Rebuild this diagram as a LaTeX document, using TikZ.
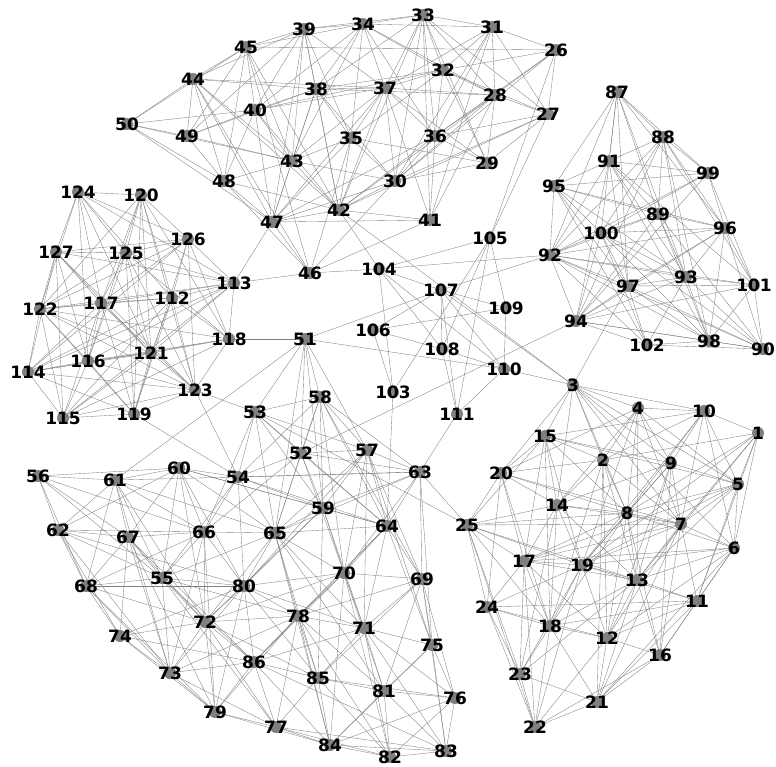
\documentclass[tikz,border=0pt]{standalone}
\usepackage{fontspec}
\setmainfont{DejaVu Sans}
\pgfdeclarelayer{background}
\pgfsetlayers{background,main}
\tikzset{
  vtx/.style={font=\bfseries\fontsize{17}{17}\selectfont, text=black, inner sep=0pt},
  edge/.style={draw=black!50, line width=0.35pt},
  dotc/.style={fill=black!50}
}
\begin{document}
\begin{tikzpicture}[x=1pt,y=-1pt]
\useasboundingbox (0,0) rectangle (776,766);
\foreach \i/\x/\y in {
1/758/433, 2/603/460, 3/573/385, 4/638/408, 5/738/484, 6/734/548, 7/681/524, 8/627/513, 9/671/463, 10/704/411,
11/697/601, 12/607/638, 13/637/580, 14/557/505, 15/545/436, 16/660/655, 17/524/561, 18/550/626, 19/582/565, 20/501/473,
21/597/702, 22/535/727, 23/520/674, 24/487/607, 25/467/525,
26/556/50, 27/548/114, 28/495/95, 29/487/163, 30/395/181, 31/492/27, 32/443/70, 33/423/15, 34/363/24, 35/351/138,
36/435/136, 37/385/88, 38/316/89, 39/304/29, 40/255/110, 41/430/220, 42/339/210, 43/292/161, 44/193/79, 45/246/47,
46/310/273, 47/272/222, 48/224/181, 49/187/136, 50/127/124,
51/305/339, 52/301/453, 53/255/412, 54/238/477, 55/162/578, 56/38/476, 57/367/450, 58/320/397, 59/323/508, 60/179/468,
61/115/480, 62/58/530, 63/420/472, 64/387/526, 65/275/533, 66/204/532, 67/128/537, 68/86/586, 69/422/579, 70/344/573,
71/364/628, 72/205/622, 73/170/673, 74/120/636, 75/432/645, 76/455/698, 77/276/727, 78/298/616, 79/215/712, 80/244/586,
81/384/691, 82/390/757, 83/446/751, 84/330/745, 85/318/678, 86/254/662,
87/617/92, 88/663/137, 89/658/214, 90/763/349, 91/609/161, 92/550/255, 93/686/277, 94/576/321, 95/554/186, 96/725/228,
97/628/286, 98/709/341, 99/708/173, 100/601/233, 101/754/285, 102/647/345,
103/393/392, 104/379/269, 105/490/238, 106/373/330, 107/441/290, 108/442/349, 109/506/308, 110/504/369, 111/457/414,
112/172/298, 113/234/283, 114/28/372, 115/63/418, 116/88/361, 117/101/303, 118/229/339, 119/134/414, 120/141/195,
121/151/353, 122/40/309, 123/195/390, 124/78/192, 125/126/253, 126/188/239, 127/56/252}
  \node[vtx] (n\i) at (\x,\y) {\i};
\begin{pgfonlayer}{background}
% top cluster
\foreach \a/\b in {50/44,50/45,50/49,50/43,50/40,50/48,50/47,49/43,
44/45,44/39,44/49,44/48,44/47,44/43,44/42,44/38,44/37,
45/39,45/34,45/26,45/40,45/43,45/49,45/42,45/48,
39/34,39/33,39/37,39/38,39/40,39/43,39/35,39/49,39/47,39/42,
34/33,34/31,34/37,34/35,34/38,34/40,34/43,34/36,34/32,34/28,
33/31,33/32,33/36,33/28,33/27,33/37,33/38,33/30,33/29,33/41,33/42,
31/26,31/28,31/27,31/36,31/30,31/41,31/32,31/37,
26/28,26/27,26/30,26/105,26/32,26/36,
28/32,28/27,28/29,28/36,28/30,28/37,28/38,28/41,28/42,
27/32,27/30,27/29,27/36,27/42,27/105,
32/37,32/36,32/29,32/38,32/40,32/35,
37/38,37/35,37/36,37/41,37/43,37/42,37/30,37/47,37/40,37/29,
38/35,38/43,38/42,38/30,38/40,38/47,38/49,
35/43,35/42,35/47,35/30,35/29,35/46,
36/30,36/41,36/42,36/29,36/47,
30/42,30/47,30/29,30/43,30/46,
41/47,41/42,41/46,42/47,42/43,42/48,42/40,43/48,43/47,43/40,
46/44,46/45,46/47,46/48,48/49,48/40,48/47,40/49,40/47}
  \draw[edge] (n\a.center) -- (n\b.center);
% middle and bridges
\foreach \a/\b in {47/113,46/113,46/104,104/92,104/105,104/103,104/108,104/110,104/107,42/104,42/3,
105/108,105/103,105/109,105/111,107/106,107/108,107/111,107/109,107/110,107/92,107/3,51/107,
106/109,106/108,106/103,109/110,108/111,108/110,111/110,111/63,118/51,51/110,110/3,94/52,3/97,
103/64,53/25,63/25,119/54,123/53,123/54,61/51,51/53,51/58,51/52,51/59,51/57,51/65,124/113,120/118}
  \draw[edge] (n\a.center) -- (n\b.center);
% left cluster
\foreach \a/\b in {124/120,124/127,124/122,124/125,124/117,124/116,124/121,124/112,124/126,
120/125,120/117,120/112,120/121,120/126,120/119,120/123,120/116,120/122,
126/127,126/125,126/112,126/113,126/118,126/123,126/117,126/119,126/122,126/114,
127/125,127/122,127/114,127/115,127/117,127/121,127/123,127/113,127/116,
125/117,125/121,125/118,125/122,125/113,125/119,125/123,125/116,
117/122,117/112,117/121,117/113,117/116,117/115,117/114,117/119,117/123,
112/113,112/122,112/121,112/118,112/114,112/115,112/119,112/123,
113/118,113/122,113/116,113/114,113/121,113/115,
122/114,122/115,122/116,122/121,122/123,122/119,122/118,
118/121,118/116,118/114,118/123,118/115,
121/116,121/114,121/119,121/115,121/123,
116/114,116/115,116/119,116/123,114/115,114/119,114/123,115/119,115/123,119/123}
  \draw[edge] (n\a.center) -- (n\b.center);
% bottom-left cluster
\foreach \a/\b in {56/61,56/60,56/62,56/67,56/68,56/55,56/66,
61/60,61/62,61/67,61/55,61/68,61/73,61/72,61/66,61/65,61/54,
60/54,60/62,60/66,60/55,60/67,60/80,60/65,60/59,60/72,60/64,
62/67,62/66,62/68,62/74,62/73,62/55,62/80,
67/66,67/55,67/68,67/73,67/72,67/79,67/86,67/74,
66/55,66/65,66/80,66/68,66/72,66/79,66/54,66/73,
68/55,68/74,68/73,68/80,68/79,68/72,
55/72,55/80,55/86,55/78,55/73,55/77,55/65,
54/53,54/52,54/65,54/59,54/63,54/64,54/80,54/55,
53/58,53/52,53/65,53/57,53/59,53/66,53/64,
58/52,58/57,58/59,58/65,58/70,58/63,58/64,58/69,58/54,
52/57,52/65,52/59,52/64,52/63,52/70,52/66,
57/63,57/59,57/64,57/65,57/70,57/69,57/71,57/80,57/75,
63/64,63/69,63/70,63/65,63/59,63/75,63/54,
59/65,59/64,59/70,59/71,59/80,59/72,59/85,
64/65,64/69,64/70,64/78,64/71,64/75,64/86,
65/70,65/80,65/78,65/71,65/72,65/85,65/84,65/81,
70/69,70/71,70/78,70/81,70/80,70/82,70/84,70/72,70/86,
69/75,69/76,69/71,69/81,69/85,69/83,69/78,
80/72,80/78,80/86,80/73,80/79,80/85,80/71,
72/74,72/73,72/79,72/86,72/77,72/78,72/85,
74/73,74/79,74/86,74/80,73/79,73/86,73/77,73/78,
79/86,79/77,79/84,79/78,86/77,86/78,86/84,86/85,86/83,86/71,
78/71,78/85,78/84,78/77,78/81,78/82,
71/75,71/81,71/82,71/85,71/76,71/83,
85/84,85/81,85/76,85/77,85/82,75/81,75/76,75/83,75/84,
81/76,81/82,81/83,81/84,76/83,76/82,76/84,77/84,77/83,77/82,84/82,84/83,82/83}
  \draw[edge] (n\a.center) -- (n\b.center);
% bottom-right cluster
\foreach \a/\b in {3/4,3/10,3/15,3/2,3/9,3/8,3/5,3/7,3/20,3/14,3/6,
4/10,4/2,4/9,4/8,4/7,4/13,4/14,4/20,4/5,4/19,
10/1,10/9,10/7,10/15,10/5,10/8,10/19,10/6,10/2,
1/2,1/5,1/6,1/8,1/19,1/7,1/13,1/11,
15/20,15/2,15/9,15/14,15/17,15/19,15/18,15/5,15/8,15/25,
2/20,2/8,2/7,2/12,2/18,2/14,2/21,2/13,
9/5,9/8,9/19,9/12,9/13,9/7,9/14,9/16,
20/25,20/14,20/8,20/17,20/24,20/7,20/18,
5/7,5/8,5/6,5/13,5/19,5/11,5/17,
14/8,14/19,14/17,14/25,14/18,14/7,14/13,14/23,
8/7,8/19,8/17,8/13,8/12,8/6,8/18,8/16,8/25,
25/17,25/24,25/19,25/13,25/23,25/22,25/18,25/7,
7/6,7/13,7/11,7/19,7/12,7/16,7/21,7/17,
6/11,6/13,6/19,6/12,6/17,6/16,6/21,
17/19,17/24,17/18,17/13,17/22,17/23,17/12,
19/13,19/18,19/12,19/11,19/23,19/22,19/24,
13/11,13/12,13/16,13/18,13/21,13/23,
11/16,11/12,11/21,11/18,11/24,24/18,24/23,24/22,24/12,
18/12,18/23,18/22,18/21,12/16,12/21,12/22,16/21,16/22,23/22,23/21,21/22}
  \draw[edge] (n\a.center) -- (n\b.center);
% right cluster
\foreach \a/\b in {87/88,87/91,87/95,87/92,87/99,87/97,87/89,87/96,87/93,87/100,
88/91,88/99,88/96,88/101,88/89,88/93,88/92,88/94,88/98,88/100,
91/95,91/99,91/92,91/97,91/89,91/93,91/94,91/98,91/101,
95/92,95/99,95/89,95/97,95/93,95/102,95/98,95/96,
99/96,99/101,99/92,99/100,99/94,
89/100,89/96,89/93,89/94,89/98,89/90,89/92,
100/92,100/96,100/97,100/93,100/102,100/94,100/90,
96/101,96/93,96/92,96/94,96/98,96/90,96/97,
92/94,92/97,92/93,92/101,92/98,92/90,92/102,
97/93,97/94,97/102,97/98,97/101,97/90,
93/101,93/94,93/98,93/102,93/90,101/94,101/98,101/90,
94/102,94/98,94/90,102/98,102/90,98/90}
  \draw[edge] (n\a.center) -- (n\b.center);
\foreach \i in {1,...,127}
  \fill[dotc] (n\i.center) circle (6);
\end{pgfonlayer}
\end{tikzpicture}
\end{document}
